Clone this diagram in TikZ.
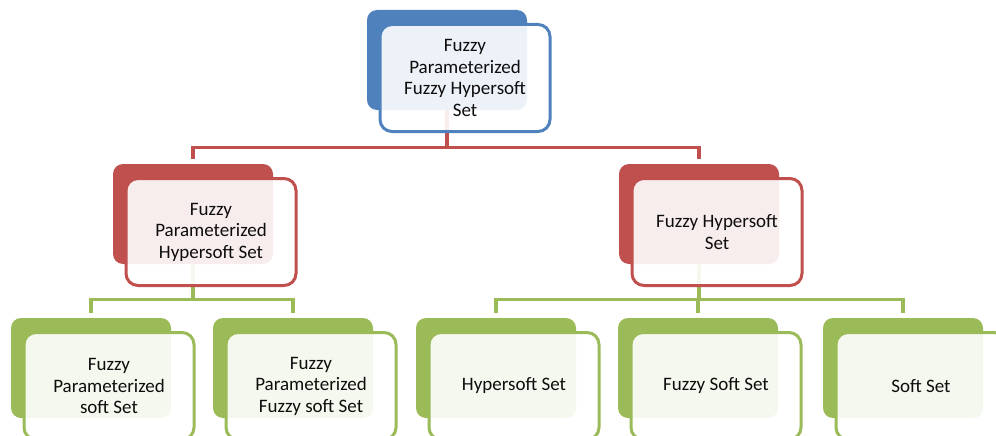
\documentclass[tikz,border=0pt]{standalone}
\usepackage{fontspec}
\setmainfont{Carlito}
\definecolor{blueacc}{HTML}{4F81BD}
\definecolor{redacc}{HTML}{C0504D}
\definecolor{greenacc}{HTML}{9BBB59}
\definecolor{textdark}{HTML}{0D0D0D}

\tikzset{
  backbox/.style={rounded corners=10pt, minimum width=160pt, minimum height=100pt, fill=#1, inner sep=0pt},
  frontbox/.style={rounded corners=12pt, minimum width=170pt, minimum height=107pt,
    draw=#1, line width=3pt, fill=white, fill opacity=0.9, text opacity=1,
    align=center, text=textdark, font=\fontsize{19}{21.5}\selectfont},
  link/.style={draw=#1, line width=3.2pt, shorten >=5pt},
}

\begin{document}
\begin{tikzpicture}[x=1pt,y=-1pt]
  \useasboundingbox (0,0) rectangle (996,436);

  % back boxes
  \node[backbox=blueacc]  (fpfhs) at (447,60)  {};
  \node[backbox=redacc]   (fphs)  at (193,214) {};
  \node[backbox=redacc]   (fhs)   at (699,214) {};
  \node[backbox=greenacc] (fps)   at (91,368)  {};
  \node[backbox=greenacc] (fpfs)  at (293,368) {};
  \node[backbox=greenacc] (hs)    at (496,368) {};
  \node[backbox=greenacc] (fss)   at (698,368) {};
  \node[backbox=greenacc] (ss)    at (903,368) {};

  % connectors
  \draw[link=redacc] (fpfhs.south) -- ++(0,37) -| (fphs.north);
  \draw[link=redacc] (fpfhs.south) -- ++(0,37) -| (fhs.north);
  \draw[link=greenacc] (fphs.south) -- ++(0,35) -| (fps.north);
  \draw[link=greenacc] (fphs.south) -- ++(0,35) -| (fpfs.north);
  \draw[link=greenacc] (fhs.south) -- ++(0,35) -| (hs.north);
  \draw[link=greenacc] (fhs.south) -- ++(0,35) -| (fss.north);
  \draw[link=greenacc] (fhs.south) -- ++(0,35) -| (ss.north);

  % front boxes
  \node[frontbox=blueacc]  (fpfhs-f) at ([shift={(18,18)}]fpfhs.center) {Fuzzy\\Parameterized\\Fuzzy Hypersoft\\Set};
  \node[frontbox=redacc]   (fphs-f)  at ([shift={(18,18)}]fphs.center)  {Fuzzy\\Parameterized\\Hypersoft Set};
  \node[frontbox=redacc]   (fhs-f)   at ([shift={(18,18)}]fhs.center)   {Fuzzy Hypersoft\\Set};
  \node[frontbox=greenacc] (fps-f)   at ([shift={(18,18)}]fps.center)   {Fuzzy\\Parameterized\\soft Set};
  \node[frontbox=greenacc] (fpfs-f)  at ([shift={(18,18)}]fpfs.center)  {Fuzzy\\Parameterized\\Fuzzy soft Set};
  \node[frontbox=greenacc] (hs-f)    at ([shift={(18,18)}]hs.center)    {Hypersoft Set};
  \node[frontbox=greenacc] (fss-f)   at ([shift={(18,18)}]fss.center)   {Fuzzy Soft Set};
  \node[frontbox=greenacc] (ss-f)    at ([shift={(18,18)}]ss.center)    {Soft Set};
\end{tikzpicture}
\end{document}
